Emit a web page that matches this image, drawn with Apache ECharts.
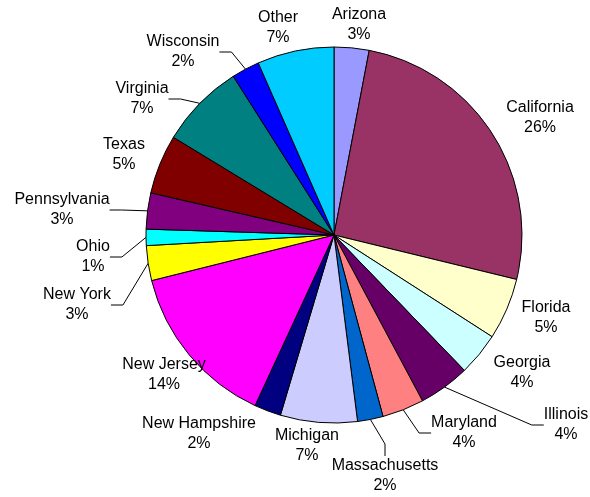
<!DOCTYPE html>
<html>
<head>
<meta charset="utf-8">
<script src="https://cdn.jsdelivr.net/npm/echarts@6/dist/echarts.min.js"></script>
<style>
  html, body { margin: 0; padding: 0; background: #fff; }
  #pieChart { width: 590px; height: 497px; }
</style>
</head>
<body>
<div id="pieChart"></div>
<script>
  // slices clockwise from 12 o'clock, share of total (%)
  const states = ['Arizona', 'California', 'Florida', 'Georgia', 'Illinois', 'Maryland',
    'Massachusetts', 'Michigan', 'New Hampshire', 'New Jersey', 'New York', 'Ohio',
    'Pennsylvania', 'Texas', 'Virginia', 'Wisconsin', 'Other'];
  const shares = [3.0, 25.8, 5.3, 3.7, 4.4, 3.6, 2.2, 6.6, 2.3, 14.2, 3.0, 1.4, 3.1, 5.1, 7.3, 2.4, 6.6];

  // labels pulled away from their slice get a leader line
  const withLeader = ['Illinois', 'Maryland', 'Massachusetts', 'New York', 'Ohio',
    'Pennsylvania', 'Virginia', 'Wisconsin'];

  const sliceColors = ['#9999ff', '#993366', '#ffffcc', '#ccffff', '#660066', '#ff8080',
    '#0066cc', '#ccccff', '#000080', '#ff00ff', '#ffff00', '#00ffff',
    '#800080', '#800000', '#008080', '#0000ff', '#00ccff'];

  // where each label block is centred (px)
  const labelSpots = [
    [359, 25], [540, 118], [546, 318], [522, 373], [566, 425], [464, 433],
    [385, 476], [307, 446], [199, 434], [164, 375], [77, 305], [93, 257],
    [62, 210], [124, 155], [142, 99], [183, 52], [278, 28]
  ];

  const total = shares.reduce((a, b) => a + b, 0);

  const chart = echarts.init(document.getElementById('pieChart'));

  const option = {
    animation: false,
    color: sliceColors,
    series: [{
      type: 'pie',
      center: [334, 235],
      radius: 188,
      startAngle: 90,
      clockwise: true,
      avoidLabelOverlap: false,
      data: states.map((name, i) => ({
        name: name,
        value: shares[i],
        labelLine: { show: withLeader.indexOf(name) >= 0 }
      })),
      itemStyle: {
        borderColor: '#000',
        borderWidth: 1
      },
      label: {
        position: 'outside',
        fontFamily: '"Liberation Sans", Arial, sans-serif',
        fontSize: 16,
        lineHeight: 20,
        color: '#000',
        formatter: function (p) {
          return p.name + '\n' + Math.round(p.value / total * 100) + '%';
        }
      },
      labelLine: {
        length: 10,
        length2: 12,
        lineStyle: { color: '#000', width: 1 }
      },
      labelLayout: function (params) {
        const spot = labelSpots[params.dataIndex];
        return {
          x: spot[0],
          y: spot[1],
          align: 'center',
          verticalAlign: 'middle'
        };
      },
      emphasis: { disabled: true }
    }]
  };

  chart.setOption(option);
</script>
</body>
</html>
